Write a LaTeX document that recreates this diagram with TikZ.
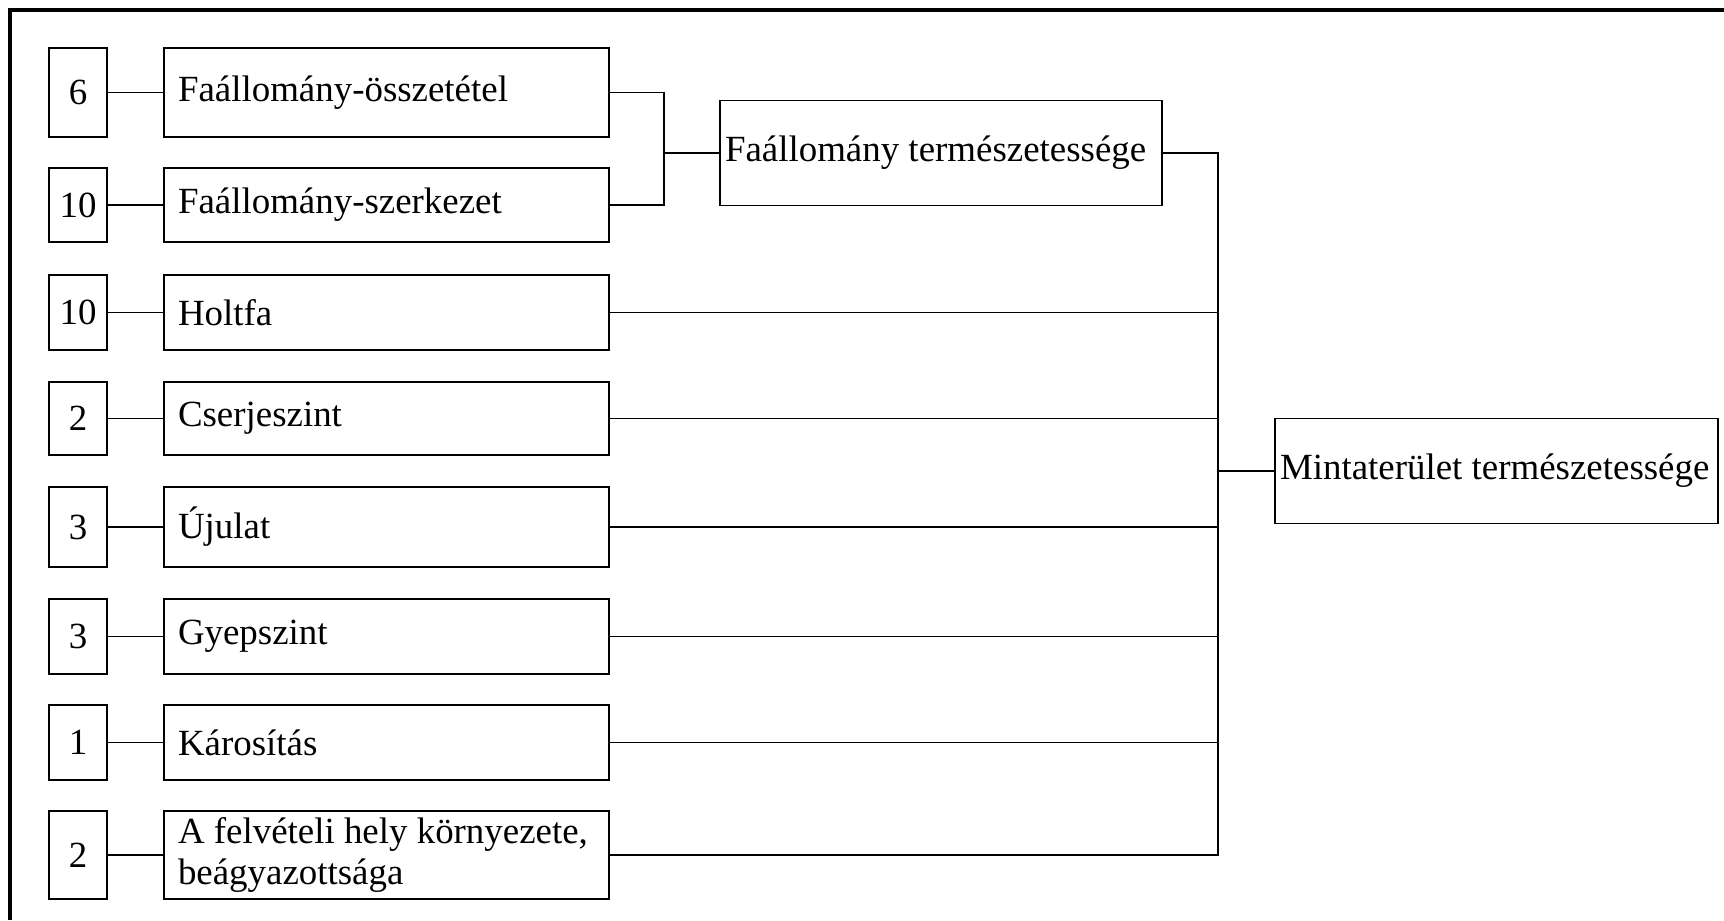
\documentclass[tikz,border=0pt]{standalone}
\usepackage{fontspec}
\setmainfont{Liberation Serif}
\usetikzlibrary{positioning}

\begin{document}
\begin{tikzpicture}[
    font=\fontsize{10.5}{11.8}\selectfont,
    numbox/.style={draw, line width=0.5pt, minimum width=0.58cm, inner sep=0pt},
    critbox/.style={draw, line width=0.5pt, text width=4.17cm, inner xsep=0.14cm, inner ysep=0pt, align=flush left},
    sumbox/.style={draw, line width=0.5pt, text width=4.32cm, inner xsep=0.05cm, align=flush left, minimum height=1.05cm},
    link/.style={line width=0.5pt}
  ]
  \useasboundingbox (0,0) rectangle (17.24,-9.2);
  \draw[line width=0.9pt] (0.10,-9.2) -- (0.10,-0.10) -- (17.24,-0.10); % frame

  % criteria with their weights
  \foreach \val/\txt/\y/\h [count=\i] in {
      6/{Faállomány-összetétel}/0.925/0.89cm,
      10/{Faállomány-szerkezet}/2.05/0.74cm,
      10/{Holtfa}/3.125/0.75cm,
      2/{Cserjeszint}/4.185/0.73cm,
      3/{Újulat}/5.27/0.80cm,
      3/{Gyepszint}/6.365/0.75cm,
      1/{Károsítás}/7.425/0.75cm,
      2/{A felvételi hely környezete,\\beágyazottsága}/8.55/0.88cm}
  {
    \node[numbox, minimum height=\h] (n\i) at (0.78,-\y) {\val};
    \node[critbox, minimum height=\h] (t\i) at (3.865,-\y) {\txt};
    \draw[link] (n\i) -- (t\i);
  }

  \node[sumbox] (fa) at (9.41,-1.53) {Faállomány természetessége};
  \node[sumbox, text width=4.33cm] (mt) at (14.965,-4.71) {Mintaterület természetessége};

  \coordinate (j1) at (6.64,-1.53);
  \coordinate (j2) at (12.18,-4.71);

  \draw[link] (t1.east) -| (j1) |- (t2.east);
  \draw[link] (j1) -- (fa);
  \draw[link] (fa.east) -| (j2);
  \foreach \i in {3,...,8}
    \draw[link] (t\i.east) -| (j2);
  \draw[link] (j2) -- (mt);
\end{tikzpicture}
\end{document}
